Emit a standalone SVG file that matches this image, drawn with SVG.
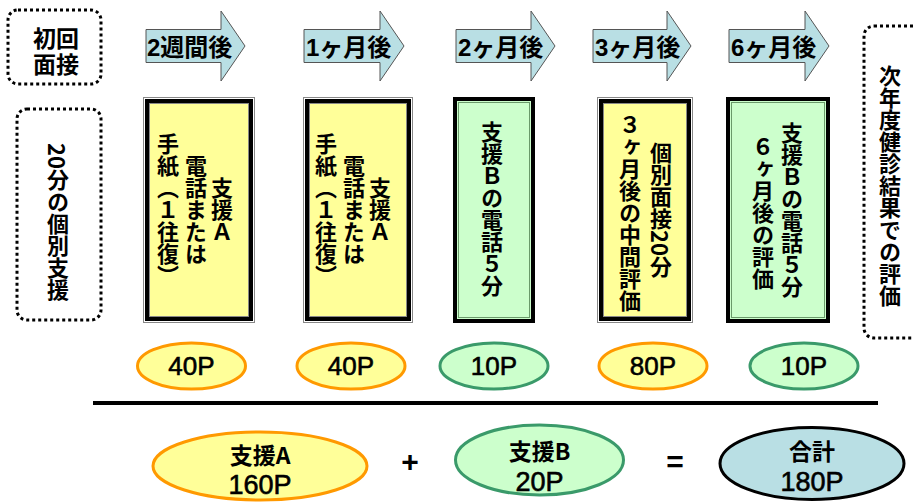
<svg xmlns="http://www.w3.org/2000/svg" width="914" height="502" viewBox="0 0 914 502">
<style>
.t{font-family:"Liberation Sans","Noto Sans CJK JP",sans-serif;font-weight:bold;fill:#000}
.v{font-family:"Noto Sans CJK JP",sans-serif;font-weight:bold;font-size:22px;writing-mode:vertical-rl;text-anchor:middle;fill:#000}
.tcy{text-combine-upright:all}
.dot{fill:none;stroke:#000;stroke-width:3;stroke-dasharray:3 3}
.arr{fill:#B9DFE4;stroke:#555;stroke-width:1}
.at{font-family:"Liberation Sans","Noto Sans CJK JP",sans-serif;font-weight:bold;font-size:24px}
.yo{fill:#FFFF99;stroke:#FF9900;stroke-width:3}
.go{fill:#CCFFCC;stroke:#3A9A6A;stroke-width:3}
.to{fill:#B9DFE4;stroke:#000;stroke-width:3}
.et{font-family:"Liberation Sans","Noto Sans CJK JP",sans-serif;font-size:26px;text-anchor:middle;stroke:#000;stroke-width:0.6}
.bj{font-family:"Noto Sans CJK JP",sans-serif;font-size:23px;font-weight:bold;text-anchor:middle}
.bn{font-family:"Liberation Sans","Noto Sans CJK JP",sans-serif;font-size:27px;text-anchor:middle;stroke:#000;stroke-width:0.6}
</style>

<g id="start1">
<rect class="dot" x="8" y="10" width="93" height="74" rx="10"/>
<text class="t" font-size="23" text-anchor="middle"><tspan x="56" y="47">初回</tspan><tspan x="56" y="73">面接</tspan></text>
</g>
<g id="start2">
<rect class="dot" x="17" y="109" width="84" height="211" rx="10"/>
<text class="v" x="58" y="222"><tspan class="tcy">20</tspan>分の個別支援</text>
</g>

<g id="arrow1"><path class="arr" d="M146,29.5H221V11L245,46L221,81V62.5H146Z"/><text class="at" x="147" y="56">2週間後</text></g>
<g id="arrow2"><path class="arr" d="M304,29.5H380V11L404,46L380,81V62.5H304Z"/><text class="at" x="306" y="56">1ヶ月後</text></g>
<g id="arrow3"><path class="arr" d="M456,29.5H531V11L555,46L531,81V62.5H456Z"/><text class="at" x="458" y="56">2ヶ月後</text></g>
<g id="arrow4"><path class="arr" d="M593,29.5H667V11L691,46L667,81V62.5H593Z"/><text class="at" x="595" y="56">3ヶ月後</text></g>
<g id="arrow5"><path class="arr" d="M729,29.5H805V11L829,46L805,81V62.5H729Z"/><text class="at" x="731" y="56">6ヶ月後</text></g>

<g id="box1">
<rect x="143" y="97" width="112" height="226" fill="#888"/>
<rect x="144" y="98" width="110" height="224" fill="#fff"/>
<rect x="145" y="99" width="108" height="222" fill="#000"/>
<rect x="149" y="103" width="100" height="214" fill="#888"/>
<rect x="150" y="104" width="98" height="212" fill="#FFFF99"/>
<text class="v" x="222" y="210">支援Ａ</text>
<text class="v" x="196" y="210">電話または</text>
<text class="v" x="168" y="210">手紙（１往復）</text>
</g>
<g id="box2">
<rect x="303" y="97" width="110" height="226" fill="#888"/>
<rect x="304" y="98" width="108" height="224" fill="#fff"/>
<rect x="305" y="99" width="106" height="222" fill="#000"/>
<rect x="309" y="103" width="98" height="214" fill="#888"/>
<rect x="310" y="104" width="96" height="212" fill="#FFFF99"/>
<text class="v" x="380" y="210">支援Ａ</text>
<text class="v" x="354" y="210">電話または</text>
<text class="v" x="326" y="210">手紙（１往復）</text>
</g>
<g id="box3">
<rect x="453" y="97" width="82" height="226" fill="#000"/>
<rect x="457" y="101" width="74" height="218" fill="#CCFFCC"/>
<rect x="458" y="102" width="72" height="216" fill="#6A9A6A"/>
<rect x="459" y="103" width="70" height="214" fill="#CCFFCC"/>
<text class="v" x="492" y="209">支援Ｂの電話５分</text>
</g>
<g id="box4">
<rect x="597" y="97" width="96" height="226" fill="#888"/>
<rect x="598" y="98" width="94" height="224" fill="#fff"/>
<rect x="599" y="99" width="92" height="222" fill="#000"/>
<rect x="603" y="103" width="84" height="214" fill="#888"/>
<rect x="604" y="104" width="82" height="212" fill="#FFFF99"/>
<text class="v" x="661" y="210">個別面接<tspan class="tcy">20</tspan>分</text>
<text class="v" x="630" y="213">３ヶ月後の中間評価</text>
</g>
<g id="box5">
<rect x="726" y="97" width="104" height="226" fill="#000"/>
<rect x="730" y="101" width="96" height="218" fill="#CCFFCC"/>
<rect x="731" y="102" width="94" height="216" fill="#6A9A6A"/>
<rect x="732" y="103" width="92" height="214" fill="#CCFFCC"/>
<text class="v" x="792" y="210">支援Ｂの電話５分</text>
<text class="v" x="763" y="213">６ヶ月後の評価</text>
</g>

<g id="end">
<rect class="dot" x="864" y="26" width="60" height="312" rx="10"/>
<text class="v" x="890" y="186">次年度健診結果での評価</text>
</g>

<g id="p1"><ellipse class="yo" cx="191.5" cy="366" rx="54" ry="23"/><text class="et" x="191.5" y="375">40P</text></g>
<g id="p2"><ellipse class="yo" cx="351" cy="366" rx="54" ry="23"/><text class="et" x="351" y="375">40P</text></g>
<g id="p3"><ellipse class="go" cx="494" cy="366" rx="54" ry="23"/><text class="et" x="494" y="375">10P</text></g>
<g id="p4"><ellipse class="yo" cx="653" cy="366" rx="54" ry="23"/><text class="et" x="653" y="375">80P</text></g>
<g id="p5"><ellipse class="go" cx="804" cy="366" rx="54" ry="23"/><text class="et" x="804" y="375">10P</text></g>

<g id="connectors">
<line x1="93" y1="403" x2="878" y2="403" stroke="#000" stroke-width="4"/>
</g>

<g id="sumA"><ellipse class="yo" cx="260" cy="466" rx="107" ry="34"/><text class="bj" x="260" y="464">支援A</text><text class="bn" x="260" y="494">160P</text></g>
<text x="410" y="472" font-family="Liberation Sans,sans-serif" font-size="30" font-weight="bold" text-anchor="middle">+</text>
<g id="sumB"><ellipse class="go" cx="539.5" cy="460" rx="84" ry="35"/><text class="bj" x="539.5" y="460">支援B</text><text class="bn" x="539.5" y="491">20P</text></g>
<text x="675" y="472" font-family="Liberation Sans,sans-serif" font-size="30" font-weight="bold" text-anchor="middle">=</text>
<g id="total"><ellipse class="to" cx="812" cy="463.5" rx="92" ry="36"/><text class="bj" x="812" y="460">合計</text><text class="bn" x="812" y="491">180P</text></g>
</svg>
